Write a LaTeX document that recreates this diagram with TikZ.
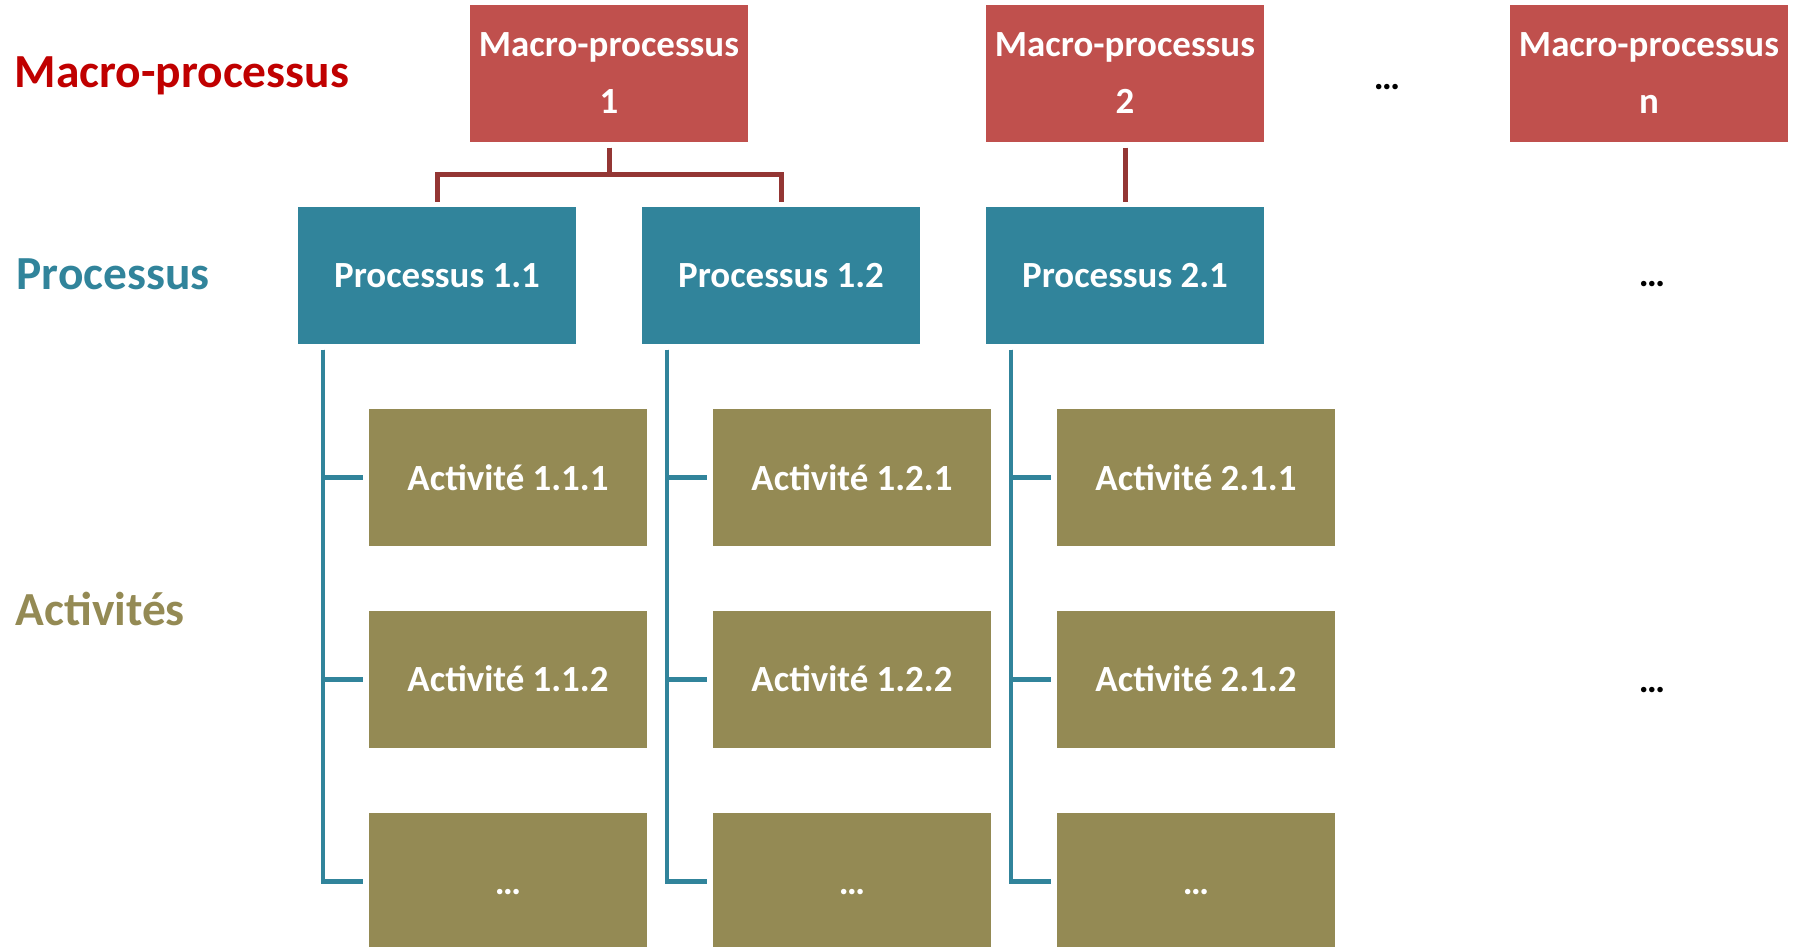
\documentclass[tikz,border=0pt]{standalone}
\usepackage{fontspec}
\setmainfont{Carlito}
\usetikzlibrary{positioning}

\definecolor{macrored}{HTML}{C0504D}
\definecolor{macrotext}{HTML}{C00000}
\definecolor{macroedge}{HTML}{943634}
\definecolor{procblue}{HTML}{31849B}
\definecolor{actolive}{HTML}{948A54}

\begin{document}
\begin{tikzpicture}[
  node distance=0.655cm and 0.66cm,
  macrobox/.style={rectangle, fill=macrored, text=white, inner sep=0pt, outer sep=0pt, minimum width=2.78cm, minimum height=1.365cm, align=center, font=\fontsize{10.5}{16.2}\selectfont\bfseries},
  procbox/.style={rectangle, fill=procblue, text=white, inner sep=0pt, outer sep=0pt, minimum width=2.78cm, minimum height=1.365cm, text height=0.29cm, text depth=0.04cm, font=\fontsize{10.5}{12}\selectfont\bfseries},
  actbox/.style={procbox, fill=actolive},
  levellabel/.style={anchor=base west, inner sep=0pt, font=\fontsize{13.5}{16}\selectfont\bfseries},
  dotnode/.style={anchor=base, inner sep=0pt, font=\fontsize{10.5}{12}\selectfont\bfseries},
  macroline/.style={macroedge, line width=0.05cm, shorten <=0.06cm, shorten >=0.05cm},
  procline/.style={procblue, line width=0.045cm, shorten <=0.06cm, shorten >=0.06cm}
]
\useasboundingbox (0,0) rectangle (17.97,-9.47);

%Level labels
\node[levellabel, text=macrotext] (lmacro) at (0.14,-0.88) {Macro-processus};
\node[levellabel, text=procblue] (lproc) at (0.16,-2.90) {Processus};
\node[levellabel, text=actolive] (lact) at (0.15,-6.26) {Activités};

%Macro-processus
\node[macrobox] (macro1) at (6.09,-0.735) {Macro-processus \\ 1};

%Processus
\node[procbox, below=of macro1, xshift=-1.72cm] (proc11) {Processus 1.1};
\node[procbox, right=of proc11] (proc12) {Processus 1.2};
\node[procbox, right=of proc12] (proc21) {Processus 2.1};

\node[macrobox, above=of proc21] (macro2) {Macro-processus \\ 2};
\node[macrobox, right=2.46cm of macro2] (macron) {Macro-processus \\ n};

%Activites
\node[actbox, below=of proc11, xshift=0.71cm] (act111) {Activité 1.1.1};
\node[actbox, below=of act111] (act112) {Activité 1.1.2};
\node[actbox, below=of act112] (act113) {…};

\node[actbox, below=of proc12, xshift=0.71cm] (act121) {Activité 1.2.1};
\node[actbox, below=of act121] (act122) {Activité 1.2.2};
\node[actbox, below=of act122] (act123) {…};

\node[actbox, below=of proc21, xshift=0.71cm] (act211) {Activité 2.1.1};
\node[actbox, below=of act211] (act212) {Activité 2.1.2};
\node[actbox, below=of act212] (act213) {…};

%Dots
\node[dotnode] (dmacro) at (13.87,-0.90) {…};
\node[dotnode] (dproc) at (16.52,-2.87) {…};
\node[dotnode] (dact) at (16.52,-6.93) {…};

%Macro -> processus
\draw[macroline] (macro1.south) -- ++(0,-0.325) -| (proc11.north);
\draw[macroline] (macro1.south) -- ++(0,-0.325) -| (proc12.north);
\draw[macroline] (macro2.south) -- (proc21.north);

%Processus -> activites
\draw[procline] ([xshift=0.25cm]proc11.south west) |- (act111.west);
\draw[procline] ([xshift=0.25cm]proc11.south west) |- (act112.west);
\draw[procline] ([xshift=0.25cm]proc11.south west) |- (act113.west);

\draw[procline] ([xshift=0.25cm]proc12.south west) |- (act121.west);
\draw[procline] ([xshift=0.25cm]proc12.south west) |- (act122.west);
\draw[procline] ([xshift=0.25cm]proc12.south west) |- (act123.west);

\draw[procline] ([xshift=0.25cm]proc21.south west) |- (act211.west);
\draw[procline] ([xshift=0.25cm]proc21.south west) |- (act212.west);
\draw[procline] ([xshift=0.25cm]proc21.south west) |- (act213.west);

\end{tikzpicture}
\end{document}
